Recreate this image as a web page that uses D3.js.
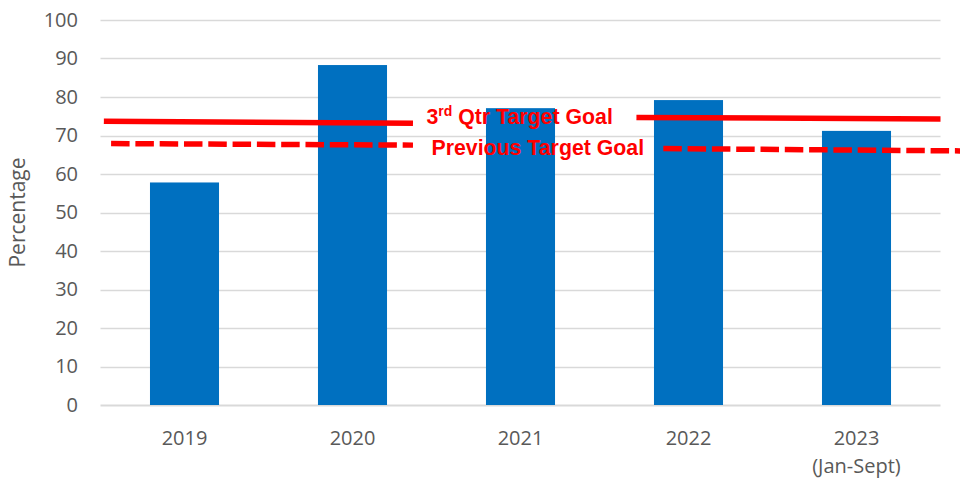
<!DOCTYPE html>
<html>
<head>
<meta charset="utf-8">
<script src="https://cdn.jsdelivr.net/npm/d3@7"></script>
<style>
  html, body { margin: 0; padding: 0; background: #fff; }
  svg { display: block; }
</style>
</head>
<body>
<svg id="chart" width="960" height="479"></svg>
<script>
// ---- data ----
const categories = ["2019", "2020", "2021", "2022", "2023"];
const categorySubLabels = ["", "", "", "", "(Jan-Sept)"];
const values = [57.8, 88.3, 77.1, 79.2, 71.2];
const yTicks = [0, 10, 20, 30, 40, 50, 60, 70, 80, 90, 100];
const yTitle = "Percentage";
// goal line segments: position along category axis (0..5) and value
const currentGoalSegments = [
  { x0: 0.02, v0: 73.7, x1: 1.86, v1: 73.2 },
  { x0: 3.19, v0: 74.7, x1: 5.0, v1: 74.3 }
];
const previousGoalSegments = [
  { x0: 0.063, v0: 67.9, x1: 1.86, v1: 67.5 },
  { x0: 3.35, v0: 66.6, x1: 5.12, v1: 66.0 }
];
const currentGoalLabel = { pos: 1.94, value: 73.0, main: "3", sup: "rd", rest: " Qtr Target Goal" };
const previousGoalLabel = { pos: 1.97, value: 64.9, text: "Previous Target Goal" };

// ---- layout ----
const svg = d3.select("#chart");
const plotLeft = 100.5, plotRight = 940.5, plotTop = 20, plotBottom = 405;

const x = d3.scaleBand().domain(categories).range([plotLeft, plotRight]).paddingInner(0.589).paddingOuter(0.2945);
const xPos = d3.scaleLinear().domain([0, categories.length]).range([plotLeft, plotRight]);
const y = d3.scaleLinear().domain([0, 100]).range([plotBottom, plotTop]);

const labelFont = "'Open Sans', sans-serif";
const labelColor = "#595959";

// gridlines
svg.append("g").selectAll("line").data(yTicks).join("line")
  .attr("x1", plotLeft).attr("x2", plotRight)
  .attr("y1", d => Math.round(y(d)) + 0.5).attr("y2", d => Math.round(y(d)) + 0.5)
  .attr("stroke", "#d9d9d9").attr("stroke-width", d => d === 0 ? 2 : 1.5);

// y tick labels
const yAxis = d3.axisLeft(y).tickValues(yTicks).tickSize(0).tickPadding(0);
const gy = svg.append("g").attr("transform", `translate(78,0)`).call(yAxis);
gy.select(".domain").remove();
gy.selectAll("text").attr("font-family", labelFont).attr("font-size", 20).attr("fill", labelColor);

// y title
svg.append("text")
  .attr("transform", `translate(25,${(plotTop + plotBottom) / 2}) rotate(-90)`)
  .attr("text-anchor", "middle")
  .attr("font-family", labelFont).attr("font-size", 21).attr("fill", labelColor)
  .text(yTitle);

// bars
svg.append("g").selectAll("rect").data(values).join("rect")
  .attr("x", (d, i) => x(categories[i]))
  .attr("width", x.bandwidth())
  .attr("y", d => y(d))
  .attr("height", d => y(0) - y(d))
  .attr("fill", "#0070c0");

// x labels
const gx = svg.append("g");
categories.forEach((c, i) => {
  const cx = x(c) + x.bandwidth() / 2;
  gx.append("text").attr("x", cx).attr("y", 445)
    .attr("text-anchor", "middle").attr("font-family", labelFont).attr("font-size", 20).attr("fill", labelColor)
    .text(c);
  if (categorySubLabels[i]) {
    gx.append("text").attr("x", cx).attr("y", 473)
      .attr("text-anchor", "middle").attr("font-family", labelFont).attr("font-size", 20).attr("fill", labelColor)
      .text(categorySubLabels[i]);
  }
});

// goal lines
svg.append("g").selectAll("line").data(currentGoalSegments).join("line")
  .attr("x1", d => xPos(d.x0)).attr("y1", d => y(d.v0))
  .attr("x2", d => xPos(d.x1)).attr("y2", d => y(d.v1))
  .attr("stroke", "#ff0000").attr("stroke-width", 5.5);

svg.append("g").selectAll("line").data(previousGoalSegments).join("line")
  .attr("x1", d => xPos(d.x0)).attr("y1", d => y(d.v0))
  .attr("x2", d => xPos(d.x1)).attr("y2", d => y(d.v1))
  .attr("stroke", "#ff0000").attr("stroke-width", 5.5)
  .attr("stroke-dasharray", "18.5,5.8");

// goal labels
const t1 = svg.append("text")
  .attr("x", xPos(currentGoalLabel.pos)).attr("y", y(currentGoalLabel.value))
  .attr("font-family", "'Liberation Sans', Arial, sans-serif").attr("font-weight", "bold")
  .attr("font-size", 21.3).attr("fill", "#ff0000");
t1.append("tspan").text(currentGoalLabel.main);
t1.append("tspan").attr("font-size", 14).attr("dy", -8).text(currentGoalLabel.sup);
t1.append("tspan").attr("dy", 8).text(currentGoalLabel.rest);

svg.append("text")
  .attr("x", xPos(previousGoalLabel.pos)).attr("y", y(previousGoalLabel.value))
  .attr("font-family", "'Liberation Sans', Arial, sans-serif").attr("font-weight", "bold")
  .attr("font-size", 21.3).attr("fill", "#ff0000")
  .text(previousGoalLabel.text);
</script>
</body>
</html>
